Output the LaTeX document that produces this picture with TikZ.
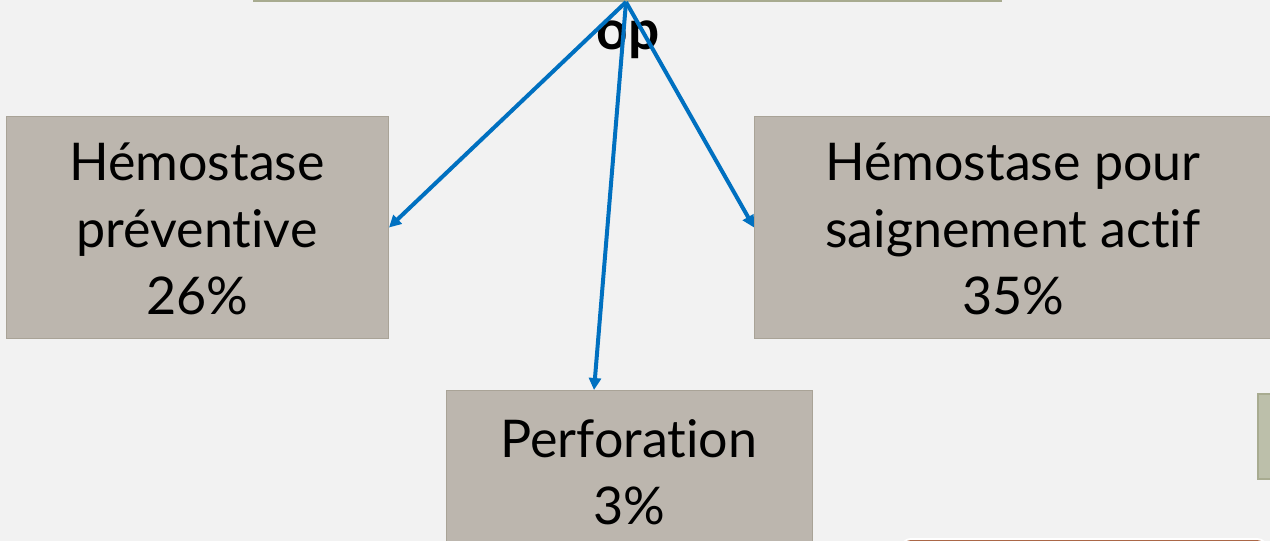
\documentclass[tikz,border=0pt]{standalone}
\usepackage{fontspec}
\setmainfont{Lato}[RawFeature={-liga;-dlig}]
\usetikzlibrary{arrows.meta}
\definecolor{bg}{HTML}{F2F2F2}
\definecolor{boxfill}{HTML}{BCB6AE}
\definecolor{boxline}{HTML}{A9A397}
\definecolor{greenfill}{HTML}{BCBFAA}
\definecolor{greenline}{HTML}{A8AB90}
\definecolor{topfill}{HTML}{D9DACB}
\definecolor{arrowblue}{HTML}{0070C0}
\definecolor{brown}{HTML}{A0522D}
\tikzset{
  catbox/.style={draw=boxline, fill=boxfill, line width=1pt, inner sep=0pt, anchor=north west},
  bigtext/.style={font=\fontsize{52}{67}\selectfont, align=center, text=black},
  link/.style={draw=arrowblue, line width=4pt, -{Triangle[length=12pt,width=12pt]}},
}
\begin{document}
\begin{tikzpicture}[x=1pt,y=-1pt]
\useasboundingbox (0,0) rectangle (1270,541);
\fill[bg] (0,0) rectangle (1270,541);
% top box (cut off)
\node[draw=greenline, fill=topfill, line width=2pt, inner sep=0pt, minimum width=747pt, minimum height=30pt, anchor=south west] (topbox) at (253,2) {};
\coordinate (src) at (626,2);
\node[font=\fontsize{55}{60}\selectfont\bfseries, text=black] (op) at (628,40) {op};
% boxes
\node[catbox, minimum width=382pt, minimum height=222pt] (prev) at (6,116) {};
\node[bigtext] (prevtxt) at (197,229) {Hémostase\\préventive\\26\%};
\node[catbox, minimum width=518pt, minimum height=222pt] (actif) at (754,116) {};
\node[bigtext] (actiftxt) at (1013,229) {Hémostase pour\\saignement actif\\35\%};
\node[catbox, minimum width=366pt, minimum height=170pt] (perf) at (446,390) {};
\node[bigtext] (perftxt) at (629,472) {Perforation\\3\%};
% right small box (cut off)
\node[draw=greenline, fill=greenfill, line width=1.5pt, inner sep=0pt, minimum width=40pt, minimum height=85pt, anchor=north west] (side) at (1257,393) {};
% bottom brown box (cut off)
\node[draw=white, fill=brown, line width=2pt, rounded corners=10pt, inner sep=0pt, minimum width=366pt, minimum height=60pt, anchor=north west] (brownbox) at (900,538) {};
% arrows
\draw[link] (src) -- (prev.east);
\draw[link] (src) -- (perf.north west -| 594,388);
\draw[link] (src) -- (actif.west);
\end{tikzpicture}
\end{document}
